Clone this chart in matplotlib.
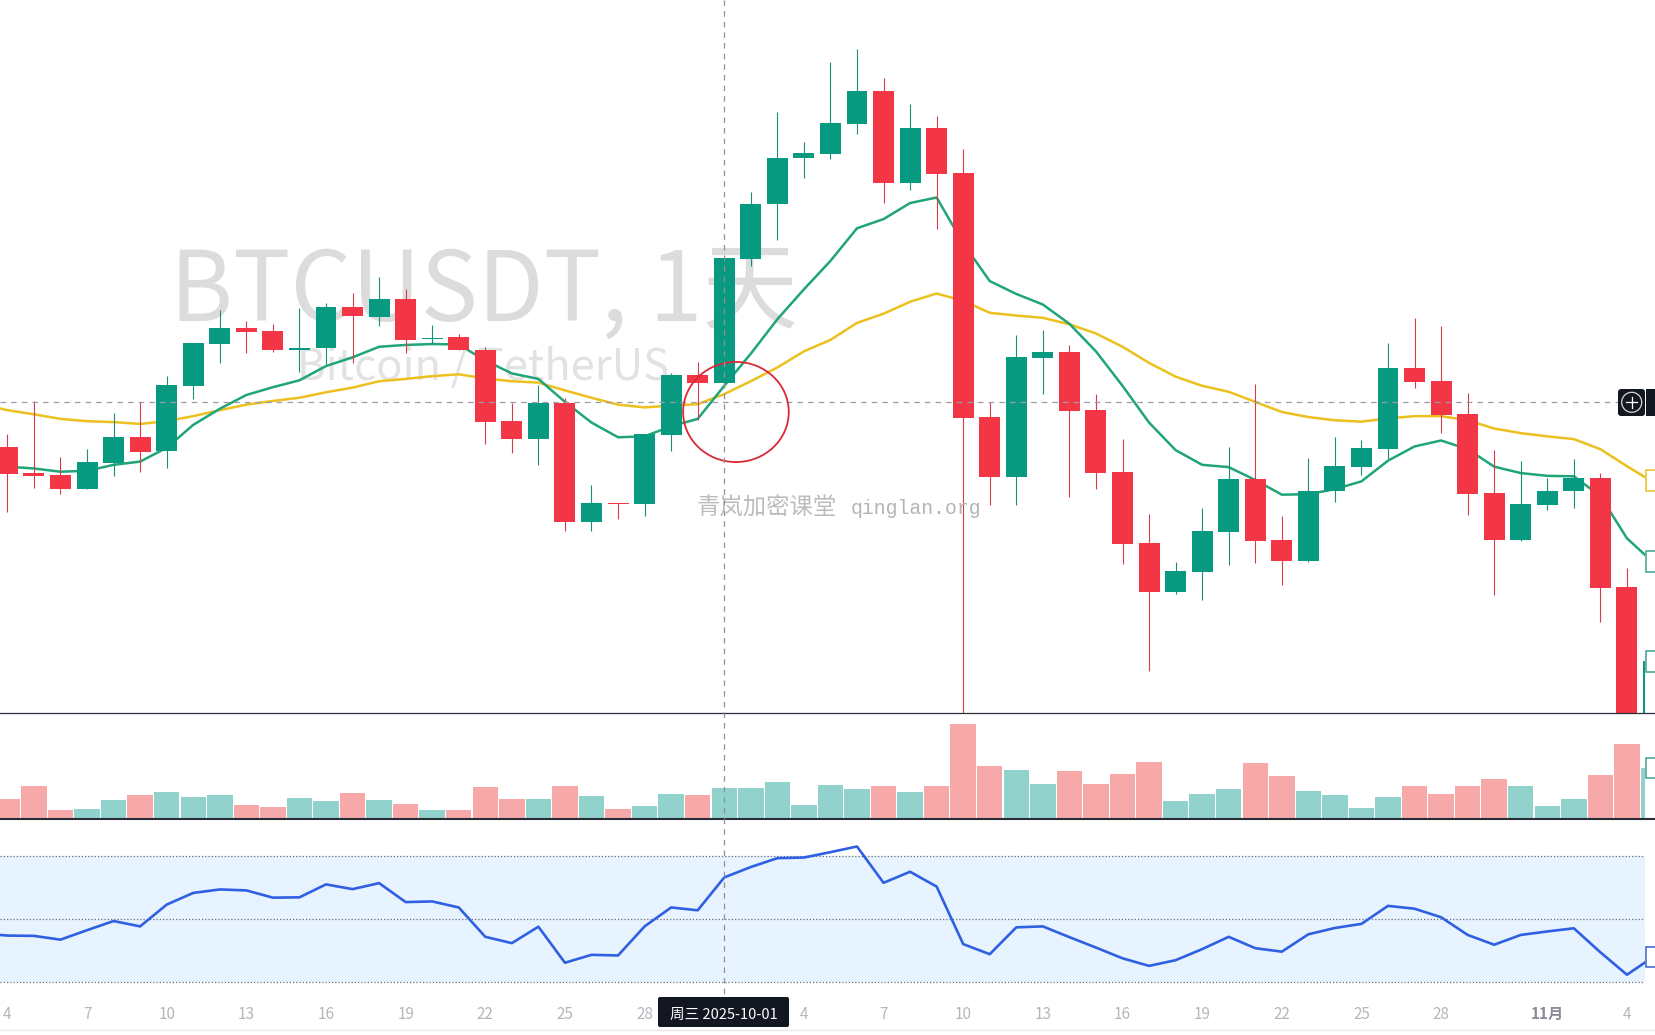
import matplotlib

matplotlib.use("Agg")

import matplotlib.pyplot as plt
import numpy as np
from matplotlib.patches import Circle, Ellipse, FancyBboxPatch, Rectangle

plt.rcParams["font.family"] = ["Noto Sans CJK SC", "DejaVu Sans"]

WIDTH, HEIGHT = 1656, 1035
PANE_RIGHT = 1645
BAR_STEP = 26.55
FIRST_BAR_X = 7.4

UP = "#089981"
DOWN = "#f23645"
UP_WICK = "#1a8d7b"
DOWN_WICK = "#d63a4c"
UP_VOL = "#92d2cc"
DOWN_VOL = "#f7a9a9"

opens = [112432, 111520, 111456, 110976, 111888, 112768, 112272, 114560, 116032, 116576,
         116464, 115824, 115872, 117296, 116960, 117584, 116176, 116256, 115808, 113328,
         112720, 113968, 109808, 110480, 110448, 112864, 114928, 114672, 118976, 120880,
         122480, 122640, 123696, 124832, 121632, 123536, 121968, 113472, 111392, 115520,
         115728, 113712, 111552, 109072, 107392, 108080, 109472, 111312, 109184, 108464,
         110880, 111744, 112368, 115184, 114720, 113568, 110816, 109200, 110416, 110880,
         111344, 107552, 100800]
highs = [112880, 114048, 112080, 112352, 113600, 113984, 114912, 116048, 117200, 116816,
         116704, 117264, 117456, 117792, 118352, 117920, 116672, 116368, 115920, 113952,
         114592, 114128, 111104, 110480, 112880, 115008, 115392, 119008, 121328, 124096,
         123056, 125840, 126288, 125280, 124384, 123952, 122816, 113984, 116320, 116496,
         115968, 114272, 112704, 110080, 108416, 110304, 112432, 114624, 110016, 112048,
         112784, 112672, 116048, 116912, 116640, 114304, 112320, 111936, 111360, 112000,
         111520, 108224, 104960]
lows = [110160, 111008, 110784, 110976, 111408, 111568, 111712, 114112, 115360, 115712,
        115744, 115040, 115328, 115360, 116656, 115712, 116000, 115792, 112544, 112208,
        111808, 109504, 109504, 109920, 110032, 112288, 113376, 114672, 118720, 119648,
        121792, 122448, 123344, 120944, 121392, 120032, 102000, 110400, 110400, 114272,
        110688, 110960, 108352, 104640, 107296, 107104, 108320, 108384, 107616, 108416,
        110528, 111456, 112000, 114480, 112928, 110048, 107280, 109152, 110240, 110320,
        106336, 99200, 100000]
closes = [111504, 111408, 110976, 111904, 112768, 112256, 114592, 116048, 116576, 116448,
          115824, 115888, 117296, 116976, 117584, 116160, 116240, 115792, 113312, 112720,
          113968, 109808, 110480, 110432, 112880, 114928, 114672, 119008, 120896, 122496,
          122672, 123712, 124832, 121632, 123536, 121952, 113456, 111392, 115568, 115728,
          113696, 111536, 109056, 107392, 108096, 109504, 111312, 109168, 108464, 110896,
          111760, 112384, 115184, 114704, 113552, 110800, 109200, 110432, 110896, 111344,
          107520, 100800, 104960]

# both averages start one bar left of the visible range
ma_fast = [111840, 111744, 111680, 111568, 111600, 111808, 111920, 112400, 113200, 113760,
           114240, 114512, 114752, 115248, 115552, 115920, 115984, 116016, 116000, 115440,
           114992, 114800, 114000, 113280, 112768, 112800, 113152, 113408, 114560, 115680,
           116880, 117920, 118912, 120048, 120368, 120928, 121120, 119520, 118208, 117760,
           117392, 116720, 115760, 114560, 113280, 112320, 111808, 111728, 111280, 110768,
           110784, 110960, 111232, 111952, 112448, 112656, 112352, 111744, 111520, 111424,
           111408, 110720, 109248, 108400]
ma_slow = [113920, 113712, 113568, 113408, 113328, 113296, 113232, 113328, 113504, 113712,
           113904, 114032, 114144, 114336, 114496, 114720, 114800, 114896, 114960, 114816,
           114720, 114672, 114400, 114144, 113904, 113808, 113872, 113920, 114272, 114720,
           115200, 115760, 116160, 116752, 117072, 117488, 117776, 117520, 117104, 117008,
           116928, 116704, 116384, 115920, 115360, 114880, 114560, 114352, 114000, 113648,
           113472, 113360, 113312, 113424, 113504, 113504, 113360, 113072, 112912, 112800,
           112704, 112352, 111760, 111200]

volumes = [57, 96, 24, 27, 54, 69, 78, 63, 69, 39, 33, 60, 51, 75, 54, 42, 24, 24, 93, 57,
           57, 96, 66, 27, 36, 72, 69, 90, 90, 108, 39, 99, 87, 96, 78, 96, 282, 156, 144,
           102, 141, 102, 132, 168, 51, 72, 87, 165, 126, 81, 69, 30, 63, 96, 72, 96, 117,
           96, 36, 57, 129, 222, 150]

rsi = [45.5, 44.8, 44.7, 43.5, 46.5, 49.4, 47.7, 54.6, 58.3, 59.4, 59.1, 56.8, 56.9, 61.0,
       59.5, 61.4, 55.4, 55.6, 53.7, 44.4, 42.4, 47.6, 36.2, 38.7, 38.5, 47.7, 53.7, 52.8,
       63.2, 66.5, 69.3, 69.5, 71.2, 73.0, 61.5, 65.0, 60.3, 42.1, 38.9, 47.4, 47.7, 44.3,
       41.0, 37.6, 35.2, 37.0, 40.5, 44.4, 40.8, 39.7, 45.2, 47.2, 48.5, 54.2, 53.3, 50.6,
       45.0, 41.9, 45.0, 46.1, 47.1, 39.5, 32.4, 38.1]

tick_bars = [0, 3, 6, 9, 12, 15, 18, 21, 24, 30, 33, 36, 39, 42, 45, 48, 51, 54, 58, 61]
tick_labels = ["4", "7", "10", "13", "16", "19", "22", "25", "28", "4", "7", "10", "13",
               "16", "19", "22", "25", "28", "11月", "4"]

CROSS_BAR = 27
CROSS_PRICE = 113984


def _pane(fig, top, bottom, ylim):
    ax = fig.add_axes([0, 1 - bottom / HEIGHT, PANE_RIGHT / WIDTH, (bottom - top) / HEIGHT])
    ax.set_xlim(-FIRST_BAR_X / BAR_STEP, (PANE_RIGHT - FIRST_BAR_X) / BAR_STEP)
    ax.set_ylim(*ylim)
    ax.patch.set_alpha(0)
    for spine in ax.spines.values():
        spine.set_visible(False)
    ax.set_xticks([])
    ax.set_yticks([])
    return ax


def _plot_price(ax):
    bars = np.arange(len(opens))
    o, h, l, c = map(np.array, (opens, highs, lows, closes))
    rising = c >= o
    ax.text(170, 321, "BTCUSDT, 1天", fontsize=69, color="#dcdcdc", va="baseline",
            transform=PX, zorder=1)
    ax.text(297, 380, "Bitcoin / TetherUS", fontsize=31.4, color="#e2e2e2", va="baseline",
            transform=PX, zorder=1)
    line_bars = np.arange(-1, len(opens))
    ax.plot(line_bars, ma_slow, color="#ecc01e", linewidth=1.8, zorder=2)
    ax.plot(line_bars, ma_fast, color="#1fa577", linewidth=1.8, zorder=2)
    ax.vlines(bars, l, h, colors=np.where(rising, UP_WICK, DOWN_WICK), linewidth=0.8, zorder=3)
    ax.bar(bars, np.abs(c - o), bottom=np.minimum(o, c), width=0.79,
           color=np.where(rising, UP, DOWN), zorder=3)
    ax.add_patch(Ellipse((27.44, 113648), 3.98, 3488, fill=False, edgecolor="#d92a35",
                         linewidth=1.3, zorder=5))
    ax.axhline(CROSS_PRICE, color="#9a9da5", linewidth=0.9, dashes=(4.5, 4), zorder=4)
    ax.text(697, 508, "青岚加密课堂", fontsize=16.8, color="#bcbcbc", va="center",
            transform=PX, zorder=6)
    ax.text(851, 508, "qinglan.org", fontsize=14.2, color="#b4b4b4", va="center",
            family=["Liberation Mono"], transform=PX, zorder=6)


def _plot_volume(ax):
    bars = np.arange(len(volumes))
    colors = np.where(np.array(closes) >= np.array(opens), UP_VOL, DOWN_VOL)
    ax.bar(bars, volumes, width=0.96, color=colors, zorder=2)


def _plot_rsi(ax):
    ax.axhspan(30, 70, color="#e7f3fe", linewidth=0, zorder=1)
    for level in (30, 50, 70):
        ax.axhline(level, color="#686c76", linewidth=0.9, dashes=(1, 1.6), zorder=2)
    ax.plot(np.arange(-1, len(opens)), rsi, color="#3060e2", linewidth=1.9, zorder=3)
    ax.set_xticks(tick_bars, tick_labels)
    ax.tick_params(axis="x", length=0, pad=4.4, labelsize=11, labelcolor="#b4b6bc")
    for label in ax.get_xticklabels():
        if label.get_text() == "11月":
            label.set_color("#8a8d95")
            label.set_fontweight("bold")


def _overlay(fig):
    ax = fig.add_axes([0, 0, 1, 1], zorder=10)
    ax.set_xlim(0, WIDTH)
    ax.set_ylim(HEIGHT, 0)
    ax.axis("off")
    ax.patch.set_alpha(0)
    # pane separators
    ax.plot([0, WIDTH], [713.3, 713.3], color="#2a2e39", linewidth=0.9)
    ax.plot([0, WIDTH], [819, 819], color="#2a2e39", linewidth=1.5)
    ax.plot([0, WIDTH], [1030, 1030], color="#e8e8e8", linewidth=1)
    # crosshair
    cross_x = FIRST_BAR_X + CROSS_BAR * BAR_STEP
    ax.plot([cross_x, cross_x], [0, 997], color="#8f929a", linewidth=0.9, dashes=(4.5, 4))
    ax.add_patch(FancyBboxPatch((658, 997), 131, 30, boxstyle="round,pad=0,rounding_size=2",
                                facecolor="#131722", linewidth=0))
    ax.text(723.5, 1014.5, "周三 2025-10-01", color="white", fontsize=10.5, ha="center", va="center")
    # plus button and clipped price label
    ax.add_patch(FancyBboxPatch((1618, 389), 27, 27, boxstyle="round,pad=0,rounding_size=3",
                                facecolor="#131722", linewidth=0))
    ax.add_patch(Rectangle((1646, 389), 10, 27, color="#131722", linewidth=0))
    ax.add_patch(Circle((1631.7, 402.3), 10, fill=False, edgecolor="#d8d8d8", linewidth=0.9))
    ax.plot([1626, 1637.4], [402.3, 402.3], color="white", linewidth=0.9)
    ax.plot([1631.7, 1631.7], [396.6, 408], color="white", linewidth=0.9)
    # last value boxes on the cut off price scale
    boxes = [(470, 490.5, "#eac11f"), (551, 572, "#3f9f8f"), (651, 672, "#3f9f8f"),
             (758, 778, "#3f9f8f"), (947, 967, "#3a5fc8")]
    for top, bottom, color in boxes:
        ax.add_patch(Rectangle((1646.5, top), 20, bottom - top, facecolor="white",
                               edgecolor=color, linewidth=1.1))


def main():
    global PX
    fig = plt.figure(figsize=(WIDTH / 100, HEIGHT / 100), dpi=100, facecolor="white")
    # pixel transform for the watermark texts
    PX = matplotlib.transforms.Affine2D().scale(1, -1).translate(0, HEIGHT)

    price_ax = _pane(fig, 0, 713.3, (103152, 128000))
    volume_ax = _pane(fig, 713.3, 818, (0, 314))
    rsi_ax = _pane(fig, 819, 1000, (24.4, 81.7))
    _plot_price(price_ax)
    _plot_volume(volume_ax)
    _plot_rsi(rsi_ax)
    _overlay(fig)
    fig.savefig("out.png", dpi=100)
    plt.close(fig)


if __name__ == "__main__":
    main()
